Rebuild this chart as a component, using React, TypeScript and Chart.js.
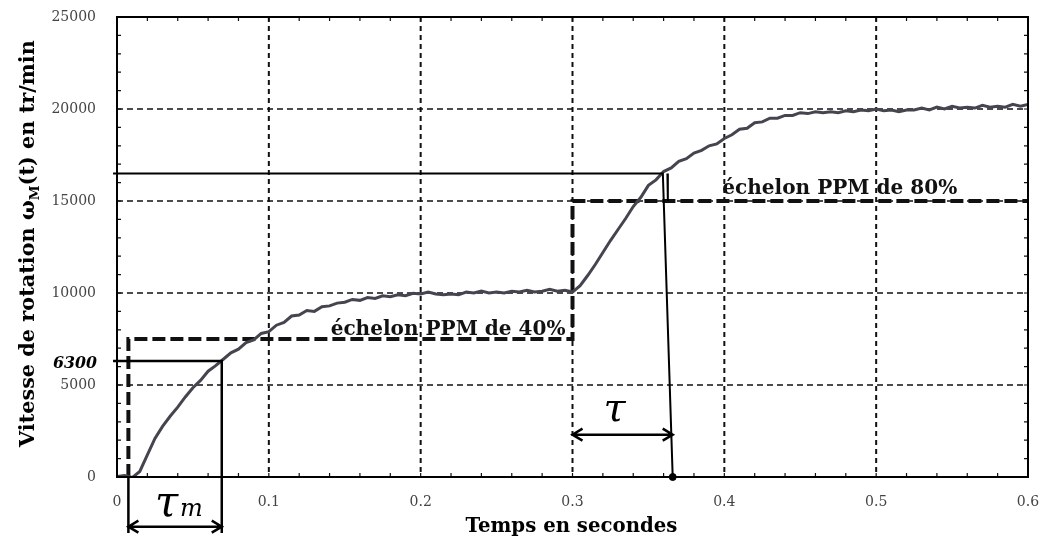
import React, { useEffect, useRef } from 'react';
import { Chart, registerables } from 'chart.js';

Chart.register(...registerables);

// ---- data ----
const times = [
  0, 0.005, 0.01, 0.015, 0.02, 0.025, 0.03, 0.035, 0.04, 0.045,
  0.05, 0.055, 0.06, 0.065, 0.07, 0.075, 0.08, 0.085, 0.09, 0.095,
  0.1, 0.105, 0.11, 0.115, 0.12, 0.125, 0.13, 0.135, 0.14, 0.145,
  0.15, 0.155, 0.16, 0.165, 0.17, 0.175, 0.18, 0.185, 0.19, 0.195,
  0.2, 0.205, 0.21, 0.215, 0.22, 0.225, 0.23, 0.235, 0.24, 0.245,
  0.25, 0.255, 0.26, 0.265, 0.27, 0.275, 0.28, 0.285, 0.29, 0.295,
  0.3, 0.305, 0.31, 0.315, 0.32, 0.325, 0.33, 0.335, 0.34, 0.345,
  0.35, 0.355, 0.36, 0.365, 0.37, 0.375, 0.38, 0.385, 0.39, 0.395,
  0.4, 0.405, 0.41, 0.415, 0.42, 0.425, 0.43, 0.435, 0.44, 0.445,
  0.45, 0.455, 0.46, 0.465, 0.47, 0.475, 0.48, 0.485, 0.49, 0.495,
  0.5, 0.505, 0.51, 0.515, 0.52, 0.525, 0.53, 0.535, 0.54, 0.545,
  0.55, 0.555, 0.56, 0.565, 0.57, 0.575, 0.58, 0.585, 0.59, 0.595,
  0.6,
];

const speed = [
  30, 80, -30, 300, 1200, 2100, 2750, 3300, 3800, 4350,
  4850, 5250, 5750, 6050, 6400, 6750, 6950, 7300, 7450, 7800,
  7900, 8250, 8400, 8750, 8800, 9050, 9000, 9250, 9300, 9450,
  9500, 9650, 9600, 9750, 9700, 9850, 9800, 9900, 9850, 9980,
  9950, 10050, 9950, 9900, 9950, 9900, 10050, 10000, 10100, 10000,
  10050, 10000, 10100, 10050, 10150, 10050, 10100, 10200, 10100, 10150,
  10050, 10400, 10950, 11550, 12200, 12850, 13450, 14050, 14700, 15200,
  15850, 16150, 16600, 16800, 17150, 17300, 17600, 17750, 18000, 18100,
  18400, 18600, 18900, 18950, 19250, 19300, 19500, 19500, 19650, 19650,
  19800, 19750, 19850, 19800, 19850, 19800, 19900, 19850, 19950, 19900,
  20000, 19900, 19950, 19850, 19950, 19950, 20050, 19950, 20100, 20000,
  20150, 20050, 20100, 20050, 20200, 20100, 20150, 20100, 20250, 20150,
  20250,
];

// PPM input steps (40 % then 80 %)
const stepTimes = [0.0075, 0.0075, 0.3, 0.3, 0.6];
const stepValues = [0, 7500, 7500, 15000, 15000];

const xTicks = [0, 0.1, 0.2, 0.3, 0.4, 0.5, 0.6];
const yTicks = [0, 5000, 10000, 15000, 20000, 25000];

// hand-drawn construction lines
const tauMLineT = [-0.0026, 0.069, 0.069];
const tauMLineV = [6300, 6300, -3050];
const tauMLeftT = [0.0075, 0.0075];
const tauMLeftV = [0, -3050];
const tauLineT = [-0.0026, 0.3595, 0.366];
const tauLineV = [16500, 16500, 0];
const tauDoubleT = [0.3625, 0.3628];
const tauDoubleV = [16500, 15000];
const tauDotT = [0.366];
const tauDotV = [0];
const tauMArrow = { from: 0.0075, to: 0.069, level: -2700 };
const tauArrow = { from: 0.3, to: 0.366, level: 2300 };

const SERIF = "'DejaVu Serif', 'Liberation Serif', serif";

const pts = (xs: number[], ys: number[]) => xs.map((x, i) => ({ x, y: ys[i] }));

function fit(ctx: CanvasRenderingContext2D, text: string, tpl: (s: number) => string, target: number) {
  ctx.font = tpl(100);
  const w = ctx.measureText(text).width;
  return (100 * target) / w;
}

function arrow(ctx: CanvasRenderingContext2D, x1: number, x2: number, y: number) {
  const h = 10;
  ctx.beginPath();
  ctx.moveTo(x1, y);
  ctx.lineTo(x2, y);
  ctx.moveTo(x1 + h, y - h * 0.6);
  ctx.lineTo(x1, y);
  ctx.lineTo(x1 + h, y + h * 0.6);
  ctx.moveTo(x2 - h, y - h * 0.6);
  ctx.lineTo(x2, y);
  ctx.lineTo(x2 - h, y + h * 0.6);
  ctx.stroke();
}

const decor = {
  id: 'decor',
  beforeDatasetsDraw(chart: any) {
    const { ctx, chartArea: a, scales } = chart;
    const x = scales.x;
    const y = scales.y;
    ctx.save();
    ctx.strokeStyle = '#111';
    // dashed grid
    ctx.setLineDash([6, 4]);
    ctx.lineWidth = 1.4;
    yTicks.forEach((v) => {
      if (v <= 0 || v >= 25000) return;
      const py = y.getPixelForValue(v);
      ctx.beginPath();
      ctx.moveTo(a.left, py);
      ctx.lineTo(a.right, py);
      ctx.stroke();
    });
    ctx.lineWidth = 2;
    ctx.setLineDash([5, 4]);
    xTicks.forEach((v) => {
      if (v <= 0 || v >= 0.6) return;
      const px = x.getPixelForValue(v);
      ctx.beginPath();
      ctx.moveTo(px, a.top);
      ctx.lineTo(px, a.bottom);
      ctx.stroke();
    });
    ctx.setLineDash([]);
    // minor ticks
    ctx.lineWidth = 1.2;
    for (let v = 1000; v < 25000; v += 1000) {
      const py = y.getPixelForValue(v);
      ctx.beginPath();
      ctx.moveTo(a.left, py);
      ctx.lineTo(a.left + 4, py);
      ctx.moveTo(a.right, py);
      ctx.lineTo(a.right - 4, py);
      ctx.stroke();
    }
    for (let k = 1; k < 30; k++) {
      const px = x.getPixelForValue(k * 0.02);
      ctx.beginPath();
      ctx.moveTo(px, a.bottom);
      ctx.lineTo(px, a.bottom - 4);
      ctx.moveTo(px, a.top);
      ctx.lineTo(px, a.top + 4);
      ctx.stroke();
    }
    ctx.restore();
  },
  afterDatasetsDraw(chart: any) {
    const { ctx, chartArea: a, scales } = chart;
    const x = scales.x;
    const y = scales.y;
    ctx.save();
    ctx.strokeStyle = '#000';
    ctx.fillStyle = '#000';
    ctx.lineWidth = 2;
    ctx.strokeRect(a.left, a.top, a.right - a.left, a.bottom - a.top);

    // arrows
    ctx.lineWidth = 2.5;
    arrow(ctx, x.getPixelForValue(tauMArrow.from), x.getPixelForValue(tauMArrow.to), y.getPixelForValue(tauMArrow.level));
    arrow(ctx, x.getPixelForValue(tauArrow.from), x.getPixelForValue(tauArrow.to), y.getPixelForValue(tauArrow.level));

    // step labels
    ctx.fillStyle = '#111';
    ctx.textBaseline = 'alphabetic';
    const bold = (s: number) => `bold ${s}px ${SERIF}`;
    const l40 = 'échelon PPM de 40%';
    const l80 = 'échelon PPM de 80%';
    const sL = fit(ctx, l40, bold, 235);
    ctx.font = bold(sL);
    ctx.textAlign = 'right';
    ctx.fillText(l40, x.getPixelForValue(0.3) - 7, y.getPixelForValue(7500) - 4);
    ctx.textAlign = 'left';
    ctx.fillText(l80, x.getPixelForValue(0.4) - 2, y.getPixelForValue(15000) - 7);

    // handwritten marks
    ctx.fillStyle = '#000';
    const hand = (s: number) => `italic bold ${s}px ${SERIF}`;
    const s63 = fit(ctx, '6300', hand, 44);
    ctx.font = hand(s63);
    ctx.textAlign = 'right';
    ctx.fillText('6300', a.left - 20, y.getPixelForValue(6300) + 7);

    ctx.textAlign = 'left';
    ctx.font = `italic ${42}px ${SERIF}`;
    ctx.fillText('τ', 155, a.bottom + 39);
    ctx.font = `italic ${24}px ${SERIF}`;
    ctx.fillText('m', 180, a.bottom + 39);
    ctx.font = `italic ${40}px ${SERIF}`;
    ctx.textAlign = 'center';
    ctx.fillText('τ', (x.getPixelForValue(tauArrow.from) + x.getPixelForValue(tauArrow.to)) / 2 - 8, y.getPixelForValue(tauArrow.level) - 14);

    // x axis title
    const reg = (s: number) => `bold ${s}px ${SERIF}`;
    const xt = 'Temps en secondes';
    const sx = fit(ctx, xt, reg, 212);
    ctx.font = reg(sx);
    ctx.textAlign = 'center';
    ctx.fillText(xt, (a.left + a.right) / 2 - 1, 532);

    // y axis title with subscript
    const parts = [
      { t: 'Vitesse de rotation ω', sub: false },
      { t: 'M', sub: true },
      { t: '(t) en tr/min', sub: false },
    ];
    let w100 = 0;
    parts.forEach((p) => {
      ctx.font = reg(p.sub ? 65 : 100);
      w100 += ctx.measureText(p.t).width;
    });
    const sy = (100 * 407) / w100;
    ctx.translate(34, 243.5);
    ctx.rotate(-Math.PI / 2);
    ctx.textAlign = 'left';
    let cx = (-407) / 2;
    parts.forEach((p) => {
      const fs = p.sub ? sy * 0.65 : sy;
      ctx.font = reg(fs);
      ctx.fillText(p.t, cx, p.sub ? sy * 0.22 : 0);
      cx += ctx.measureText(p.t).width;
    });
    ctx.restore();
  },
};

export default function App() {
  const ref = useRef<HTMLCanvasElement | null>(null);
  useEffect(() => {
    if (!ref.current) return;
    const solid = { borderColor: '#000', borderWidth: 2.5, pointRadius: 0, fill: false, clip: false as any, tension: 0 };
    const chart = new Chart(ref.current, {
      type: 'line',
      data: {
        datasets: [
          { data: pts(tauMLineT, tauMLineV), ...solid },
          { data: pts(tauMLeftT, tauMLeftV), ...solid },
          { data: pts(tauLineT, tauLineV), ...solid, borderWidth: 2 },
          { data: pts(tauDoubleT, tauDoubleV), ...solid, borderWidth: 2 },
          {
            data: pts(times, speed),
            borderColor: '#45454f',
            borderWidth: 3,
            pointRadius: 0,
            tension: 0,
            fill: false,
          },
          {
            data: pts(stepTimes, stepValues),
            borderColor: '#111',
            borderWidth: 4,
            borderDash: [13, 5],
            pointRadius: 0,
            tension: 0,
            fill: false,
            clip: false as any,
          },
          {
            data: pts(tauDotT, tauDotV),
            showLine: false,
            pointRadius: 3.5,
            pointBackgroundColor: '#000',
            pointBorderColor: '#000',
            clip: false as any,
          },
        ],
      },
      options: {
        animation: false,
        responsive: false,
        layout: { padding: { left: 0, right: 11, top: 17, bottom: 0 } },
        plugins: { legend: { display: false }, tooltip: { enabled: false }, title: { display: false } },
        scales: {
          x: {
            type: 'linear',
            min: 0,
            max: 0.6,
            afterBuildTicks: (s: any) => {
              s.ticks = xTicks.map((v) => ({ value: v }));
            },
            afterFit: (s: any) => {
              s.height = 61;
              s.paddingLeft = 0;
              s.paddingRight = 0;
            },
            grid: { display: false, drawTicks: false },
            border: { display: false },
            ticks: {
              padding: 17,
              autoSkip: false,
              maxRotation: 0,
              color: '#444',
              font: { family: SERIF, size: 14 },
              callback: (v: any) => (Number(v) === 0 ? '0' : Number(v).toFixed(1)),
            },
          },
          y: {
            min: 0,
            max: 25000,
            afterBuildTicks: (s: any) => {
              s.ticks = yTicks.map((v) => ({ value: v }));
            },
            afterFit: (s: any) => {
              s.width = 117;
              s.paddingTop = 0;
              s.paddingBottom = 0;
            },
            grid: { display: false, drawTicks: false },
            border: { display: false },
            ticks: {
              padding: 21,
              color: '#444',
              font: { family: SERIF, size: 14 },
              callback: (v: any) => String(v),
            },
          },
        },
      },
      plugins: [decor],
    } as any);
    return () => chart.destroy();
  }, []);
  return (
    <div style={{ position: 'fixed', left: 0, top: 0, width: 1039, height: 538, background: '#fff' }}>
      <canvas ref={ref} width={1039} height={538} style={{ display: 'block' }} />
    </div>
  );
}
